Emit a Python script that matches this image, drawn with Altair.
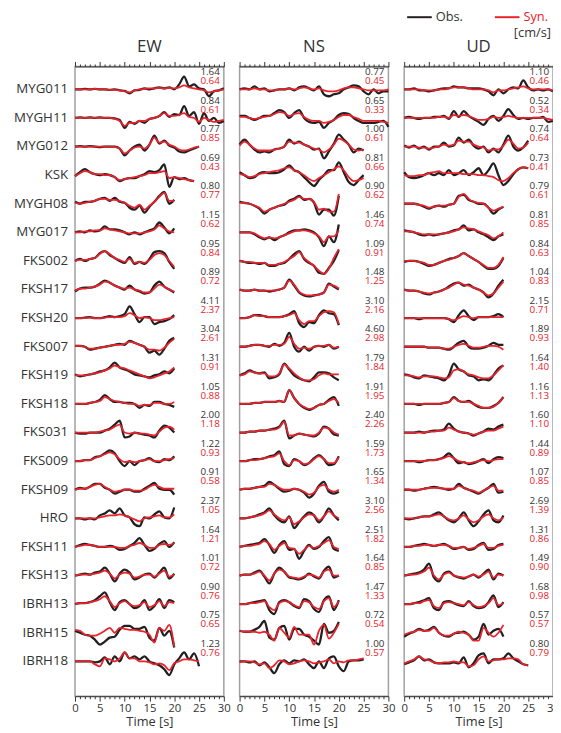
import altair as alt
import pandas as pd

STATIONS = ["MYG011", "MYGH11", "MYG012", "KSK", "MYGH08", "MYG017", "FKS002",
            "FKSH17", "FKSH20", "FKS007", "FKSH19", "FKSH18", "FKS031", "FKS009",
            "FKSH09", "HRO", "FKSH11", "FKSH13", "IBRH13", "IBRH15", "IBRH18"]

# Peak velocities [cm/s] printed at each trace (observed, synthetic)
EW_PEAK_OBS = [1.64, 0.84, 0.77, 0.69, 0.80, 1.15, 0.95, 0.89, 4.11, 3.04, 1.31,
               1.05, 2.00, 1.22, 0.91, 2.37, 1.64, 1.01, 0.90, 0.75, 1.23]
EW_PEAK_SYN = [0.64, 0.61, 0.85, 0.43, 0.77, 0.62, 0.84, 0.72, 2.37, 2.61, 0.91,
               0.88, 1.18, 0.93, 0.58, 1.05, 1.21, 0.72, 0.76, 0.65, 0.76]
NS_PEAK_OBS = [0.77, 0.65, 1.00, 0.81, 0.90, 1.46, 1.09, 1.48, 3.10, 4.60, 1.79,
               1.91, 2.40, 1.59, 1.65, 3.10, 2.51, 1.64, 1.47, 0.72, 1.00]
NS_PEAK_SYN = [0.45, 0.33, 0.61, 0.66, 0.62, 0.74, 0.91, 1.25, 2.16, 2.98, 1.84,
               1.95, 2.26, 1.73, 1.34, 2.56, 1.82, 0.85, 1.33, 0.54, 0.57]
UD_PEAK_OBS = [1.10, 0.52, 0.74, 0.73, 0.79, 0.81, 0.84, 1.04, 2.15, 1.89, 1.64,
               1.16, 1.60, 1.44, 1.07, 2.69, 1.31, 1.49, 1.68, 0.57, 0.80]
UD_PEAK_SYN = [0.46, 0.34, 0.64, 0.41, 0.61, 0.85, 0.63, 0.83, 0.71, 0.93, 1.40,
               1.13, 1.10, 0.89, 0.85, 1.39, 0.86, 0.90, 0.98, 0.57, 0.79]

# Normalised waveforms sampled every 1 s from t = 0 (one list per station)
EW_OBS = [
    [0, 0, 0.5, 0, 0.5, 0, 0, -0.5, 0, -1, -1.5, -4, -1, -0.5, 1, 0, 1, 2, 1, 2, 0, 5, 13, 3, 5, 1, 0, -7, -2, -1, 1],
    [0, 0.5, 0, 0.5, 0, 0.5, 0, 0, -0.5, -2, -10, -4, -6, -3, -5, -1, 0, 2, 6, 1, 4, 3, 12, 2, 6, -6, 5, -3, 0, -5, -3],
    [0, 0.5, 0, 0.5, 0, -0.5, 0, 0, 0, -2, -9, -4, 0, 2, -4, 2, 11, 3, 6, 1, -1, -5, -6, -4, -2, 0],
    [-1, 3, 6, 3, 1, 0, 1, 0, -2, -6, -4, -3, -3, -1, 1, 4, 3, 5, 11, -12, -2, -4, -3, -5, -6],
    [2, 0, 2, 2, 3, 5, 6, 3, 6, 2, 1, -4, -6, -2, -9, -3, 2, 8, 12, 0, 4],
    [0, 1, 0, 2, 1, 2, 6, 3, 3, 2, 0, -2, 0, -2, 0, 2, 4, 10, 5, -1, 4],
    [0, 2, 0, 2, 3, 8, 10, 6, 3, 0, -2, 4, -3, -1, -3, 2, 9, 10, 8, -1, -8],
    [-2, 1, 2, 2, 3, 6, 9, 7, 4, 2, 0, 4, 0, -2, -4, -3, 4, 8, 3, 0, -3],
    [0, 0, 0.5, 1, 0, 0, 1, 2, 1, 2, 4, 12, 4, -4, 1, 1, -6, -4, -3, -1, 3],
    [1, 1, 0, -3, -2, -1, 0, 1, 2, 3, 2, 6, 4, 2, 0, -6, -4, -8, -2, 6, 9],
    [1, -1, 0, 1, 2, 4, 5, 8, 13, 8, 6, 4, 1, 0, -1, -2, 0, 1, 4, 2, 7],
    [0, 0, 0, 1, 2, 4, 9, 5, 2, 2, 1, 1, 0, -4, -1, -2, 2, 2, 0, -1, -3],
    [0, -1, -1, 0, 0, 0, 2, 4, 8, 12, -5, -4, 0, -1, -2, -3, -5, 2, 7, 5, 0],
    [0, 0, 1, 1, 4, 5, 8, 11, 8, 0, -5, 0, -4, 0, 1, 3, 0, -1, 2, 1, 5],
    [0, 2, 1, 3, 6, 6, 2, 0, -4, -2, 0, 0, -2, -2, 1, 4, 7, 1, 0, 0, -5],
    [0, 0, -1, 0, -1, 3, 5, 8, 5, 10, 3, 1, -6, -8, 1, 0, 4, 7, 1, 0, 11],
    [0, 2, 3, 2, 1, 0, 0, 1, 0, -3, -2, 1, 4, 9, 2, -4, -2, 3, 6, 0, 5],
    [0, 1, 2, 1, 3, 4, 8, 2, -6, 2, 6, 3, -4, -2, 1, 2, -2, 3, 8, -3, 2],
    [0, 1, 1, 2, 4, 8, 12, 2, -6, 2, 4, 0, -4, -2, 4, -6, -2, 5, -4, 4, 2],
    [2, 0, -2, -3, -7, -12, -9, -5, -4, 3, 7, 7, 4, 4, 6, -5, -8, 5, -3, 2, -15],
    [0, 0, 0, 0, -1, 0, 4, -3, 5, 0, 9, 3, 5, 2, 5, 0, -2, -4, -8, -14, -3, 3, 9, 2, 8, -5],
]
EW_SYN = [
    [0, 0, 0, 0, 0.5, 0, 0, -0.5, -0.5, -1, -2, -3, -1, 0, 0.5, 1, 1, 1.5, 1, 1.5, 1, 2, 4, 2, 1, 0, -1, -3, -2, -1, 0],
    [0, 0, 0, 0, 0, 0, 0, 0, -1, -3, -8, -5, -5, -3, -3, -1, 0, 2, 5, 2, 2, 3, 5, 1, 0, -4, 0, -2, -4, -3, -2],
    [0, 0, 0, 0, 0, 0, 0, 0, -0.5, -2, -7, -4, -1, 0, -2, 2, 9, 4, 5, 2, 0, -3, -4, -3, -1, 0],
    [-1, 2, 4, 3, 1, 1, 0, 0, -2, -5, -4, -3, -2, -1, 0, 2, 2, 3, 4, -3, -2, -3, -4, -5, -6],
    [1, 0, 1, 2, 3, 5, 5, 4, 4, 3, 1, -2, -4, -1, -6, -2, 2, 7, 11, 3, 3],
    [0, 0, 1, 1, 2, 2, 4, 3, 2, 1, 0, -1, -1, -1, 0, 1, 3, 7, 4, 1, 0],
    [0, 1, 1, 2, 3, 7, 10, 7, 3, 1, -1, 2, -2, -1, -2, 1, 6, 8, 6, 0, -6],
    [-1, 1, 1, 2, 3, 5, 8, 7, 4, 2, 1, 2, 0, -1, -3, -3, 1, 5, 3, 0, -2],
    [0, 0, 0, 0.5, 0, 0, 0.5, 1, 1, 1, 2, 5, 3, 0, 1, 0, -2, -2, -1, 0, 1],
    [1, 1, 0, -2, -2, -1, 0, 1, 2, 2, 3, 5, 4, 2, 0, -3, -3, -4, -1, 4, 8],
    [0, 0, 0, 1, 2, 3, 5, 7, 10, 8, 7, 5, 3, 1, -1, -3, -2, 0, 2, 4, 8],
    [0, 0, 0, 1, 2, 3, 7, 5, 3, 2, 1, 0, 0, -2, -1, -1, 1, 1, 0, 0, 2],
    [0, 0, 0, 0, 0, 1, 2, 3, 6, 8, 0, -1, 0, -1, -1, -2, -3, 1, 5, 6, 3],
    [0, 0, 1, 1, 3, 5, 7, 9, 7, 2, -1, 0, -1, 0, 1, 2, 0, 0, 1, 2, 3],
    [0, 1, 1, 3, 5, 6, 3, 0, -2, -1, 0, 0, -1, -1, 0, 3, 5, 3, 1, 1, 1],
    [0, 0, 0, 0, 0, 1, 2, 3, 3, 4, 3, 1, -1, -3, 0, 1, 2, 3, 1, 1, 4],
    [0, 1, 2, 2, 1, 0, 0, 0, 0, -1, -1, 1, 2, 4, 2, -1, -1, 2, 3, 2, 4],
    [0, 1, 1, 1, 2, 3, 5, 2, -3, 1, 3, 2, -2, -1, 1, 1, -1, 2, 5, -1, 1],
    [0, 1, 1, 2, 3, 5, 8, 3, -3, 1, 3, 0, -2, -1, 2, -3, -1, 3, -2, 2, 1],
    [3, 2, -2, -3, -3, -1, 2, 5, 0, 5, 4, 3, 3, 2, 1, -2, -10, 5, 2, 8, -14],
    [0, 0, 0, 0, -3, -5, 3, 2, 0, 3, 9, 3, 3, 0, 0, -1, -3, -2, -4, -9, -2, 0, 2, 2, 1, 0],
]
NS_OBS = [
    [0, 1, 0, 3, 0, 1, -2, -1, 0, 0, 1, -1, 2, 3, 1, -1, 3, -5, -7, -5, -4, 0, 2, 4, 3, -2, -5, 0, -4, -2, -2],
    [2, 2, 0, -2, 0, 2, 2, 5, 8, 6, 0, 5, 8, 0, -4, -5, -4, -10, -5, -2, 3, 5, 4, 0, -3, -5, -5, -5, -4, -3, -9],
    [2, 7, 2, -3, -6, -5, -6, -3, -2, 0, 7, 3, 5, 2, 0, -3, -2, -12, -5, 3, 12, 7, 2, -6, -2, -4],
    [3, 0, -3, -2, 2, 3, 2, 2, 3, 6, 10, 5, 3, -2, -7, -11, -5, 0, 5, 5, 13, 3, -7, -10, -5, 0],
    [2, 1, 0, -2, -5, -10, -6, -4, -2, -1, 3, 5, 8, 4, 5, 1, -11, -6, -6, -12, 8],
    [0, 0, 0, -2, -5, -7, -5, -8, -5, -3, 0, 2, 2, 3, 2, 0, -5, -14, -4, -10, 8],
    [0, -1, -2, -2, -3, -2, -5, -5, -3, -2, 2, 7, 10, 2, -2, -5, -12, -13, -7, 0, 11],
    [0, -1, -1, 0, -1, -1, -2, -1, 0, 2, 10, 4, -3, -6, -7, -6, -5, -3, 6, 3, 0],
    [0, 0, 1, 3, 3, 2, 1, 1, 1, 2, 4, 7, -5, -9, -4, -5, 3, 8, 5, 4, -7],
    [0, 0, 1, 2, 2, 1, 0, 3, 1, 4, 14, 0, -5, 0, -4, 0, 1, 0, 2, -2, 0],
    [0, 2, 5, 3, 2, 3, -3, -2, 1, 12, 6, 0, -3, -5, -6, -2, 3, 3, 2, -2, -5],
    [0, 0, 0, 1, 1, 2, 2, 2, 3, 2, 14, 6, 0, -4, -6, -4, -1, 0, 4, 7, -2],
    [0, 0, 1, 1, 2, 2, 3, 4, 6, 12, -6, -3, -1, -2, -3, -4, -1, 6, 4, -2, -3],
    [0, 0, 1, 2, 2, 3, 5, 6, 10, -3, -5, 2, 0, -4, -2, 3, 6, 2, -4, -3, 5],
    [0, 1, 1, 2, 3, 4, 8, 5, 1, -2, -1, 1, 0, -3, -8, -4, 4, 8, -2, -4, -2],
    [0, 0, 1, 2, 4, 6, 10, 3, -2, -4, 2, -10, -4, 2, 6, 3, -4, 2, 10, 3, -2],
    [0, 1, 2, 3, 4, 8, 2, -6, 2, 6, -3, -2, -12, -4, 2, -2, 0, 6, 10, -2, -4],
    [0, 1, 1, 3, 5, -1, -8, 2, 8, 4, -2, -3, -4, -2, 2, -1, -3, 5, 9, -2, 0],
    [0, 0, 1, 2, 3, 4, -6, -10, 2, 4, 2, -2, -4, 5, 3, -5, -8, 4, 8, -6, 4],
    [2, 1, 1, 3, 6, 12, -5, -7, 5, 7, -7, 4, 4, -2, -4, -8, -12, 9, 0, 2, 11],
    [0, 0, -1, 0, -4, -1, -6, -12, -3, 1, -2, 1, 0, 2, -3, -7, 0, -7, 3, 5, -5, -10, 0, 1, 1, 2],
]
NS_SYN = [
    [0, 0, 0, 1, 0, 0, -1, -1, 0, 0, 1, 0, 1, 2, 1, 0, 1, -1, -2, -2, -1, 1, 2, 2, 1, 0, -1, -1, -1, -1, 0],
    [1, 1, 0, -1, 0, 1, 2, 4, 6, 5, 2, 4, 5, 1, -2, -3, -3, -5, -4, -2, 1, 3, 3, 1, -1, -3, -3, -3, -3, -4, -5],
    [1, 5, 2, -2, -4, -4, -4, -3, -2, 0, 5, 4, 4, 2, 0, -2, -3, -6, -3, 2, 8, 6, 2, -3, -4, -3],
    [1, 0, -2, -1, 1, 2, 3, 4, 5, 7, 8, 5, 3, 0, -4, -6, -3, 0, 3, 6, 9, 5, -2, -6, -5, -3],
    [1, 1, 0, -2, -4, -8, -6, -4, -2, 0, 2, 4, 7, 5, 5, 2, -6, -5, -8, -8, 10],
    [0, 0, 0, -1, -4, -6, -5, -6, -5, -3, -1, 1, 2, 2, 1, -1, -4, -10, -4, -4, 2],
    [0, -1, -1, -2, -2, -2, -4, -4, -3, -1, 2, 5, 9, 3, -1, -5, -10, -13, -8, 3, 12],
    [0, -1, -1, 0, -1, -1, -1, -1, 0, 2, 9, 5, -2, -5, -6, -6, -5, -3, 5, 4, 1],
    [0, 0, 1, 3, 2, 2, 1, 1, 1, 2, 3, 5, -2, -6, -3, -3, 2, 6, 7, 6, -6],
    [0, 0, 1, 2, 2, 1, 1, 2, 2, 3, 10, 3, -2, -1, -2, 0, 1, 1, 2, -1, 0],
    [0, 1, 4, 3, 2, 2, -1, -1, 2, 11, 7, 2, -2, -5, -5, -4, 0, 2, 1, 1, 1],
    [0, 0, 0, 1, 1, 2, 2, 2, 3, 2, 14, 6, 0, -3, -5, -4, -1, 0, 3, 5, 1],
    [0, 0, 1, 1, 2, 2, 3, 3, 5, 11, -3, -3, -1, -2, -3, -3, 0, 5, 4, 0, -2],
    [0, 0, 1, 1, 2, 3, 4, 5, 8, 0, -4, 1, 0, -3, -2, 2, 5, 2, -2, -2, 4],
    [0, 1, 1, 2, 3, 3, 6, 5, 2, 0, 0, 1, 0, -2, -5, -3, 3, 5, 0, -2, 0],
    [0, 0, 1, 2, 3, 5, 8, 4, 0, -2, 1, -6, -3, 1, 4, 3, -2, 2, 7, 3, 0],
    [0, 1, 1, 2, 3, 6, 3, -3, 1, 4, -1, -2, -7, -3, 1, -1, 1, 4, 7, 0, -2],
    [0, 1, 1, 2, 4, 0, -5, 2, 6, 4, -1, -2, -3, -1, 1, 0, -2, 4, 6, 0, 0],
    [0, 0, 1, 1, 2, 3, -3, -6, 1, 3, 2, -1, -3, 3, 2, -3, -5, 3, 6, -3, 3],
    [2, 1, 1, 1, 0, 1, -2, -8, 5, 0, -5, 6, -2, -2, -2, -12, 2, 8, -6, 0, 9],
    [-1, 0, 0, -1, -3, -2, -7, -4, 1, 0, -3, -2, 0, 1, 0, -2, -1, 0, 2, -2, 0, -1, 1, 1, 2, 3],
]
UD_OBS = [
    [0, 0, 1, -1, -1, -2, -1, 0, 1, 1, 3, 2, 2, 1, 1, 1, 0, -2, -6, 0, -4, 0, 2, 1, 9, 2, -1, 0, -1, 0, -2],
    [0, 1, 0, -1, 0, 0, 1, 1, 2, -1, 7, 1, 7, 2, -1, -4, -7, -1, 2, -3, 2, 9, 3, -1, 0, -1, 0, 0, 1, -4, -3],
    [1, -1, 1, -2, 0, -3, 0, 0, 4, 0, 1, 9, 4, 7, 1, -2, 0, -6, -2, -6, 2, 11, 0, -4, -1, 6],
    [3, -2, -3, -2, 0, 2, 0, 2, 0, 5, 0, 2, 5, 0, 3, 7, 0, 5, 12, 0, -10, -6, 1, 6, 8, 7],
    [0, 0, 0, -1, -3, -5, -3, -2, -3, -1, 0, 8, 9, 4, 2, 0, 0, -4, -10, -6, -3],
    [2, 1, 0, -2, -3, -2, -3, -2, -1, 0, 2, 3, 7, 2, 3, 0, -2, -5, -8, -4, -2],
    [-1, 0, 0, -1, -3, -5, -4, -2, 0, 2, 3, 5, 8, 5, 2, -1, -5, -8, -8, -5, 3],
    [0, -1, -1, -2, -4, -5, -3, -2, 0, 3, 6, 7, 4, 5, 2, 0, -3, -8, -4, 4, 10],
    [0, 0, 0, -1, 0, 0, 0, 0, 0, -1, -4, 3, 8, 2, -2, 1, 1, 1, 2, 4, 1],
    [0, 0, 0, 0, 0, -1, -1, -1, -2, -3, 0, 4, 6, 0, -2, -2, -1, 1, 4, 2, 2],
    [1, 0, -2, -3, 0, -1, -2, -3, -5, 0, 12, 6, 4, 0, -1, -5, -4, -5, 0, 7, 10],
    [0, 0, 0, -1, 0, 0, 0, 0, 1, 2, 7, 3, 2, 3, 0, -3, -4, -4, -2, 1, 7],
    [0, 0, 0, 1, 0, 1, 2, 2, 3, 9, 4, 1, 0, -1, -3, -1, 1, 4, 3, 6, 8],
    [0, 0, 0, -1, 0, 1, 1, 2, 4, 8, 3, -2, -1, -3, -2, 0, 2, -2, 2, 4, 3],
    [0, 0, -1, 0, 1, 2, 3, 2, 1, 0, 1, 6, 2, 0, -2, -4, -1, 2, 6, -3, -2],
    [0, -1, 0, 1, 2, 2, 4, 6, 2, -2, -4, 0, 6, -2, -8, -3, 4, 8, -2, -4, 3],
    [0, 0, 1, 2, 3, 2, 1, 2, 3, 1, -2, -1, 0, -3, -2, 2, 4, -3, -2, 2, 3],
    [0, 1, 2, 3, 6, 12, -2, -6, 2, 4, 0, -2, -3, -1, 1, -2, 2, 6, -4, 2, 0],
    [0, 0, 1, 2, 4, 6, -4, -6, 2, 3, 1, -1, -2, 3, -2, -4, -3, 2, 9, -3, 2],
    [-4, -1, 1, 4, 2, 3, 6, 0, -3, -4, -1, 0, 1, -2, -7, -4, 9, -2, 2, 4, -4],
    [-3, -1, 1, 5, 1, 2, -1, -2, -2, -2, -1, -2, 4, -6, -2, 6, 8, -2, 2, 2, 3, 8, 3, 0, -3, -4],
]
UD_SYN = [
    [0, 0, 0, 0, -1, -1, -1, 0, 0, 1, 2, 2, 2, 1, 0, 0, 0, -1, -3, -1, -1, 0, 1, 2, 3, 1, 0, 0, 0, 0, -1],
    [0, 0, 0, 0, 0, 0, 0, 1, 1, 0, 3, 2, 3, 2, 0, -2, -2, -1, 1, 0, 1, 2, 1, 0, 0, 0, 0, 0, 0, -1, -2],
    [0, 0, 0, -1, -1, -2, -1, 0, 2, 1, 2, 6, 5, 5, 2, 0, -1, -4, -3, -3, 1, 7, 3, -2, -1, 4],
    [0, -1, -1, 0, 0, 2, 3, 4, 2, 2, 2, 2, 1, 1, 1, 0, 0, -1, -2, -5, -6, -3, 2, 6, 8, 7],
    [0, 0, 0, -1, -2, -4, -3, -2, -2, -1, 0, 7, 10, 5, 2, 1, 0, -4, -7, -5, -3],
    [1, 1, 0, -1, -2, -2, -2, -2, -1, 0, 1, 3, 5, 4, 3, 1, -1, -3, -6, -4, 0],
    [0, 0, 0, -1, -2, -4, -4, -2, 0, 1, 3, 5, 8, 5, 2, -1, -4, -7, -7, -4, 4],
    [0, -1, -1, -2, -3, -4, -3, -2, 0, 2, 5, 7, 5, 4, 2, 0, -3, -6, -4, 2, 8],
    [0, 0, 0, 0, 0, 0, 0, 0, 0, -1, -2, 0, 2, 1, 0, 1, 1, 1, 1, 1, 1],
    [0, 0, 0, 0, 0, -1, -1, -1, -2, -2, 0, 2, 3, 1, -1, -1, 0, 1, 1, 0, -3],
    [0, 0, -1, -2, -1, -1, -1, -2, -3, -2, 5, 6, 4, 1, 0, -2, -3, -3, 0, 5, 10],
    [0, 0, 0, 0, 0, 0, 0, 0, 1, 2, 6, 3, 2, 2, 0, -2, -4, -4, -3, 1, 7],
    [0, 0, 0, 0, 0, 1, 1, 2, 2, 5, 3, 1, 0, -1, -2, -1, 1, 2, 2, 4, 6],
    [0, 0, 0, 0, 0, 1, 1, 2, 3, 5, 3, 0, -1, -2, -1, 0, 1, 0, 1, 2, 2],
    [0, 0, 0, 0, 1, 2, 2, 2, 1, 1, 1, 4, 2, 0, -1, -3, -1, 2, 4, -1, -1],
    [0, 0, 0, 1, 2, 2, 3, 4, 2, -1, -2, 0, 3, -1, -4, -2, 2, 4, 0, -2, 1],
    [0, 0, 1, 1, 2, 2, 1, 2, 2, 1, -1, -1, 0, -2, -1, 1, 3, -1, -1, 1, 2],
    [0, 1, 1, 2, 4, 8, 0, -4, 1, 3, 0, -1, -2, -1, 1, -1, 1, 4, -2, 1, 0],
    [0, 0, 1, 1, 3, 4, -2, -4, 1, 2, 1, 0, -1, 2, -1, -3, -2, 1, 6, -1, 1],
    [-2, 0, 1, 3, 2, 2, 5, 0, -3, -3, -1, 1, 0, -2, -8, -8, 5, 0, -4, 0, 8],
    [-2, 0, 2, 5, 2, 1, -1, -2, -1, -1, 0, -1, -1, -5, -4, 2, 5, 0, 1, 2, 2, 3, 3, 2, -3, -4],
]

TICKS = list(range(0, 31))
BLACK = "#231f20"
RED = "#e8232b"
TEXT = "#333333"
FONT = "Open Sans"
Y_DOMAIN = [-0.8, 21.22]
W, H = 151, 639
ROW_UNITS = H / (Y_DOMAIN[1] - Y_DOMAIN[0])   # amplitude units per station spacing


def waveform_frame(obs, syn):
    recs = []
    for i, (o, s) in enumerate(zip(obs, syn)):
        for t, v in enumerate(o):
            recs.append({"idx": i, "t": t, "amp": v, "series": "Obs."})
        for t, v in enumerate(s):
            recs.append({"idx": i, "t": t, "amp": v, "series": "Syn."})
    return pd.DataFrame(recs)


tick_size = {"condition": {"test": "datum.value % 5 === 0", "value": 5}, "value": 2.5}


def panel(name, obs, syn, pk_obs, pk_syn, first=False, last=False):
    df = waveform_frame(obs, syn)
    xsc = alt.Scale(domain=[0, 30], nice=False, zero=False)
    ysc = alt.Scale(domain=Y_DOMAIN, reverse=True, nice=False, zero=False)
    bottom_axis = alt.Axis(orient="bottom", values=TICKS, grid=False,
                           labelExpr="datum.value % 5 === 0 ? datum.label : ''",
                           labelOverlap=False, labelFlush=False, tickSize=tick_size,
                           tickColor=TEXT, domainColor=TEXT, labelColor=TEXT,
                           labelFontSize=11.5, labelPadding=2, title="Time [s]",
                           titleFontSize=13, titleFontWeight="normal", titleColor=TEXT,
                           titlePadding=1)
    top_axis = alt.Axis(orient="top", values=TICKS, grid=False, labels=False,
                        tickSize=tick_size, tickColor=TEXT, domainColor=TEXT,
                        title="")
    base = alt.Chart(df).transform_calculate(pos=f"datum.idx - datum.amp / {ROW_UNITS}")
    obs_l = base.transform_filter("datum.series == 'Obs.'").mark_line(
        color=BLACK, strokeWidth=2.3, interpolate="monotone").encode(
        x=alt.X("t:Q", scale=xsc, axis=bottom_axis),
        y=alt.Y("pos:Q", scale=ysc, axis=None),
        detail="idx:N")
    syn_l = base.transform_filter("datum.series == 'Syn.'").mark_line(
        color=RED, strokeWidth=1.8, interpolate="monotone").encode(
        x=alt.X("t:Q", scale=xsc, axis=top_axis),
        y=alt.Y("pos:Q", scale=ysc, axis=None),
        detail="idx:N")
    pk = pd.DataFrame({"idx": list(range(len(STATIONS))),
                       "o": [f"{v:.2f}" for v in pk_obs],
                       "s": [f"{v:.2f}" for v in pk_syn]})
    pk_o = alt.Chart(pk).mark_text(align="right", baseline="middle", fontSize=10,
                                   color=TEXT, dy=-17.5).encode(
        x=alt.value(W - 4), y=alt.Y("idx:Q", scale=ysc, axis=None), text="o:N")
    pk_s = alt.Chart(pk).mark_text(align="right", baseline="middle", fontSize=10,
                                   color=RED, dy=-8.5).encode(
        x=alt.value(W - 4), y=alt.Y("idx:Q", scale=ysc, axis=None), text="s:N")
    one = pd.DataFrame({"k": [0]})
    title = alt.Chart(one).mark_text(text=name, align="center", baseline="middle",
                                     fontSize=17, color=TEXT).encode(
        x=alt.value(W / 2), y=alt.value(-20))
    layers = [obs_l, syn_l, pk_o, pk_s, title]
    if first:
        st = pd.DataFrame({"idx": list(range(len(STATIONS))), "name": STATIONS})
        layers.append(alt.Chart(st).mark_text(align="right", baseline="middle",
                                              fontSize=13.5, color=TEXT).encode(
            x=alt.value(-7), y=alt.Y("idx:Q", scale=ysc, axis=None), text="name:N"))
    if last:
        layers += [
            alt.Chart(one).mark_rule(color=BLACK, strokeWidth=2).encode(
                x=alt.value(3), x2=alt.value(28), y=alt.value(-50)),
            alt.Chart(one).mark_text(text="Obs.", align="left", baseline="middle",
                                     fontSize=13, color=TEXT).encode(
                x=alt.value(32), y=alt.value(-50)),
            alt.Chart(one).mark_rule(color=RED, strokeWidth=2).encode(
                x=alt.value(92), x2=alt.value(117), y=alt.value(-50)),
            alt.Chart(one).mark_text(text="Syn.", align="left", baseline="middle",
                                     fontSize=13, color=RED).encode(
                x=alt.value(121), y=alt.value(-50)),
            alt.Chart(one).mark_text(text="[cm/s]", align="right", baseline="middle",
                                     fontSize=13, color=TEXT).encode(
                x=alt.value(149), y=alt.value(-34)),
        ]
    return alt.layer(*layers).resolve_axis(x="independent").properties(width=W, height=H)


chart = alt.hconcat(
    panel("EW", EW_OBS, EW_SYN, EW_PEAK_OBS, EW_PEAK_SYN, first=True),
    panel("NS", NS_OBS, NS_SYN, NS_PEAK_OBS, NS_PEAK_SYN),
    panel("UD", UD_OBS, UD_SYN, UD_PEAK_OBS, UD_PEAK_SYN, last=True),
    spacing=16, bounds="flush",
).properties(
    padding={"left": 5, "top": -3, "right": -8, "bottom": 0}
).configure(font=FONT).configure_view(stroke="#a0a0a0", strokeWidth=1.5)

chart.save("out.html", embed_options={"renderer": "svg", "actions": False})
